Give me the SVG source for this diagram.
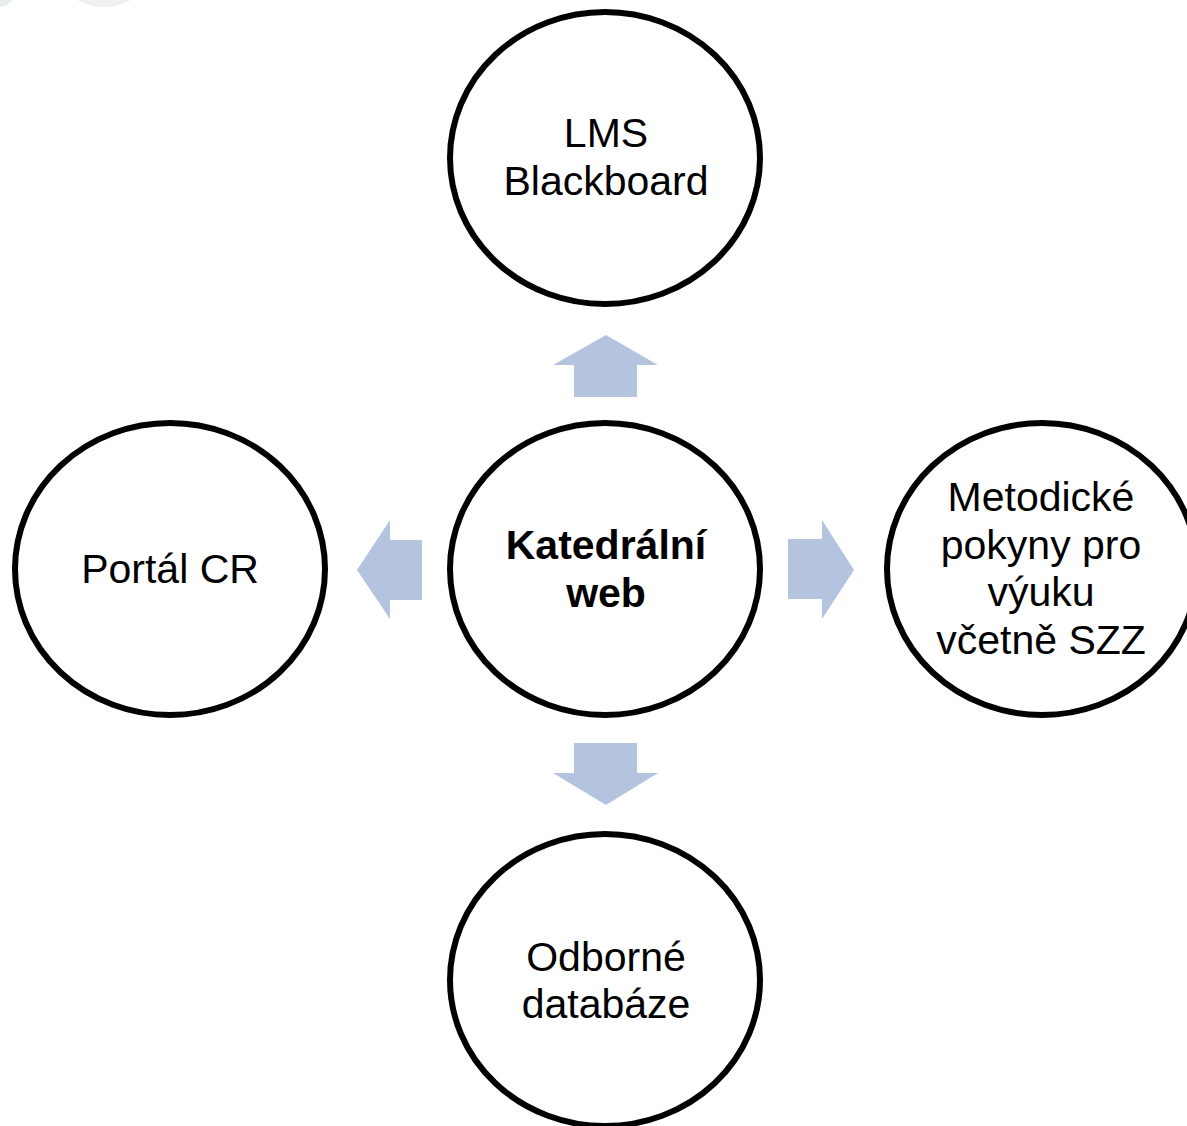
<svg xmlns="http://www.w3.org/2000/svg" width="1187" height="1126" viewBox="0 0 1187 1126">
<style>
.node{fill:#ffffff;stroke:#000000;stroke-width:6}
.arr{fill:#b4c4df;stroke:none}
.t{font-family:"Liberation Sans",Arial,sans-serif;font-size:41px;fill:#000000;text-anchor:middle}
.b{font-weight:bold;font-size:41px}
</style>
<rect width="1187" height="1126" fill="#ffffff"/>
<g id="watermark">
<ellipse cx="104" cy="-64" rx="62" ry="71" fill="#eef0f1"/>
<ellipse cx="0" cy="-42" rx="24" ry="49" fill="#e9eeee"/>
</g>
<g id="connectors">
<polygon class="arr" points="606,335 658,365 637,365 637,397 574,397 574,365 553,365"/>
<polygon class="arr" points="357,570 390,520 390,540 422,540 422,600 390,600 390,619"/>
<polygon class="arr" points="854,570 822,520 822,539 788,539 788,599 822,599 822,619"/>
<polygon class="arr" points="606,805 658,773 637,773 637,743 574,743 574,773 553,773"/>
</g>
<g id="node-center">
<ellipse class="node" cx="605" cy="569" rx="155" ry="146"/>
<text class="t b" x="606" y="559">Katedrální</text>
<text class="t b" x="606" y="607">web</text>
</g>
<g id="node-top">
<ellipse class="node" cx="605" cy="158" rx="155" ry="146"/>
<text class="t" x="606" y="147">LMS</text>
<text class="t" x="606" y="195">Blackboard</text>
</g>
<g id="node-left">
<ellipse class="node" cx="170" cy="569" rx="155" ry="146"/>
<text class="t" x="170" y="583">Portál CR</text>
</g>
<g id="node-right">
<ellipse class="node" cx="1042" cy="569" rx="155" ry="146"/>
<text class="t" x="1041" y="511">Metodické</text>
<text class="t" x="1041" y="559">pokyny pro</text>
<text class="t" x="1041" y="606">výuku</text>
<text class="t" x="1041" y="654">včetně SZZ</text>
</g>
<g id="node-bottom">
<ellipse class="node" cx="605" cy="980" rx="155" ry="146"/>
<text class="t" x="606" y="971">Odborné</text>
<text class="t" x="606" y="1018">databáze</text>
</g>
</svg>
